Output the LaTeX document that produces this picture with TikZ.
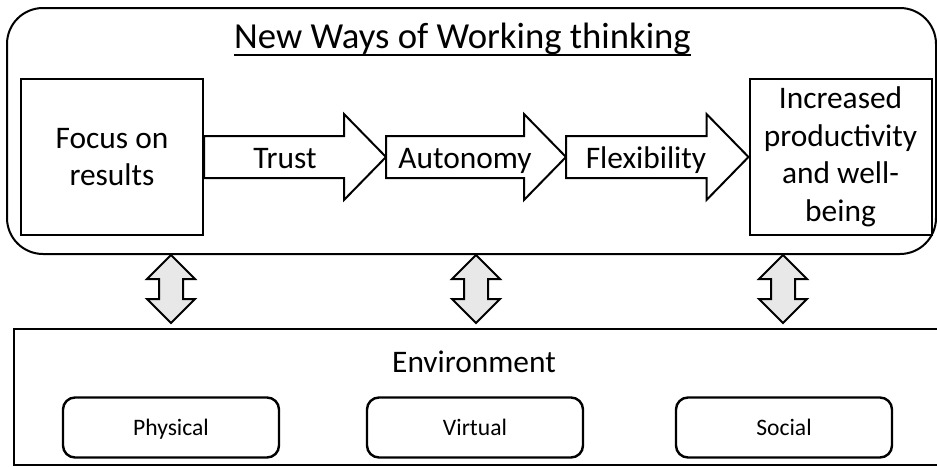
\documentclass[tikz,border=0pt]{standalone}
\usepackage{fontspec}
\setmainfont{Carlito}
\usetikzlibrary{calc}

\definecolor{linkfill}{HTML}{E8E8E8}

\newcommand\titlesize{\fontsize{36.7}{44}\selectfont}
\newcommand\mainsize{\fontsize{31.4}{37.5}\selectfont}
\newcommand\smallsize{\fontsize{23.6}{28}\selectfont}

\tikzset{
  container/.style={draw=black, line width=2pt, inner sep=0pt},
  resultbox/.style={draw=black, line width=2pt, fill=white, inner sep=0pt,
    minimum width=182pt, minimum height=156pt, align=center, font=\mainsize},
  flowarrow/.style={draw=black, line width=2pt, fill=white, line join=miter},
  linkarrow/.style={draw=black, line width=2pt, fill=linkfill, line join=miter},
  flowlabel/.style={anchor=base, inner sep=0pt, font=\mainsize},
  facet/.style={draw=black, line width=2.4pt, rounded corners=12pt, fill=white,
    minimum width=216pt, minimum height=60pt, inner sep=0pt, font=\smallsize,
    text height=20pt, text depth=3.6pt},
}

% horizontal block arrow from tail #1 to tip #2
\newcommand\blockarrow[2]{%
  \draw[flowarrow] ($(#1)+(0,-21)$) -- ($(#2)+(-42,-21)$) -- ($(#2)+(-42,-43)$)
    -- (#2) -- ($(#2)+(-42,43)$) -- ($(#2)+(-42,21)$) -- ($(#1)+(0,21)$) -- cycle;}

% vertical two-way block arrow between tips #1 (top) and #2 (bottom)
\newcommand\twowayarrow[2]{%
  \draw[linkarrow] (#1) -- ($(#1)+(24,24)$) -- ($(#1)+(12,24)$) -- ($(#2)+(12,-24)$)
    -- ($(#2)+(24,-24)$) -- (#2) -- ($(#2)+(-24,-24)$) -- ($(#2)+(-12,-24)$)
    -- ($(#1)+(-12,24)$) -- ($(#1)+(-24,24)$) -- cycle;}

\begin{document}
\begin{tikzpicture}[x=1pt, y=-1pt]
  \clip (0,0) rectangle (937,466);
  \fill[white] (0,0) rectangle (937,466);

  % upper frame: the way of thinking
  \node[container, rounded corners=36pt, minimum width=929pt, minimum height=246pt]
    (nww) at (471.5,131) {};
  \node[anchor=base, inner sep=0pt, font=\titlesize] (title) at (462.5,48)
    {New Ways of Working thinking};
  \draw[line width=2pt] ($(title.base west)+(0,7)$) -- ($(title.base east)+(0,7)$);

  \node[resultbox] (focus) at (112,157) {Focus on\\results};
  \node[resultbox] (gain) at (840.5,157) {Increased\\productivity\\and well-\\being};

  % chain of block arrows
  \coordinate (a1) at (386,157);
  \coordinate (a2) at (566,157);
  \blockarrow{focus.east}{a1}
  \blockarrow{a1}{a2}
  \blockarrow{a2}{gain.west}
  \node[flowlabel] (trust) at (285,168) {Trust};
  \node[flowlabel] (autonomy) at (465,168) {Autonomy};
  \node[flowlabel] (flex) at (646,168) {Flexibility};

  % lower frame: the environment
  \node[container, minimum width=931pt, minimum height=136pt] (env) at (479.5,397) {};
  \node[anchor=base, inner sep=0pt, font=\mainsize] (envlabel) at (474,372) {Environment};
  \node[facet] (physical) at (171,427.5) {Physical};
  \node[facet] (virtual) at (475,427.5) {Virtual};
  \node[facet] (social) at (784,427.5) {Social};

  % links between the two frames
  \coordinate (t1) at (171,255); \coordinate (b1) at (171,323);
  \coordinate (t2) at (476,255); \coordinate (b2) at (476,323);
  \coordinate (t3) at (783,255); \coordinate (b3) at (783,323);
  \twowayarrow{t1}{b1}
  \twowayarrow{t2}{b2}
  \twowayarrow{t3}{b3}
\end{tikzpicture}
\end{document}
